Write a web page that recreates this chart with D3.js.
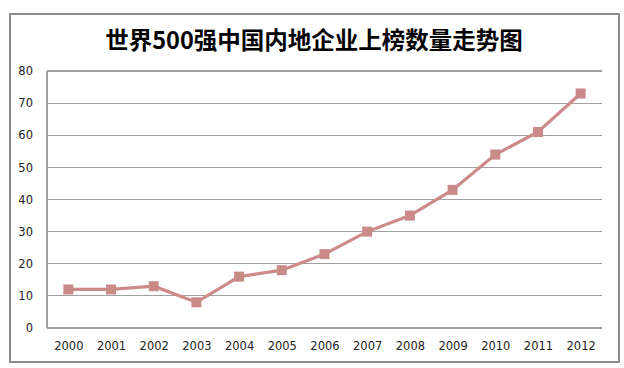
<!DOCTYPE html>
<html><head><meta charset="utf-8">
<script src="https://cdn.jsdelivr.net/npm/d3@7"></script>
<style>body{margin:0;background:#fff}svg{display:block}</style>
</head><body>
<svg id="c" width="624" height="368"></svg>
<script>
const title = "世界500强中国内地企业上榜数量走势图";
const years = ["2000","2001","2002","2003","2004","2005","2006","2007","2008","2009","2010","2011","2012"];
const counts = [12,12,13,8,16,18,23,30,35,43,54,61,73];
const yTicks = [0,10,20,30,40,50,60,70,80];

(function(){
const svg = d3.select("#c");
svg.append("rect").attr("x",10).attr("y",14).attr("width",609).attr("height",348)
  .attr("fill","#fff").attr("stroke","#8c8c8c").attr("stroke-width",2);

svg.append("text").attr("x",314).attr("y",49).attr("text-anchor","middle")
  .attr("font-family","'Noto Sans CJK SC'").attr("font-weight","bold").attr("font-size",23.5)
  .attr("fill","#000").text(title);

const pLeft=47, pRight=602, pTop=71, pBottom=328;
const x = d3.scalePoint().domain(years).range([pLeft,pRight]).padding(0.5);
const y = d3.scaleLinear().domain([0,80]).range([pBottom,pTop]);

const font = "'DejaVu Sans', sans-serif";
svg.append("g").selectAll("line").data(yTicks).join("line")
  .attr("x1",pLeft).attr("x2",pRight).attr("y1",d=>y(d)).attr("y2",d=>y(d))
  .attr("stroke","#a0a0a0").attr("stroke-width",1.2).attr("shape-rendering","crispEdges");
svg.append("line").attr("x1",pLeft).attr("x2",pLeft).attr("y1",pTop).attr("y2",pBottom)
  .attr("stroke","#a0a0a0").attr("stroke-width",1.2).attr("shape-rendering","crispEdges");

const yAxis = svg.append("g").attr("transform",`translate(${pLeft},0)`)
  .call(d3.axisLeft(y).tickValues(yTicks).tickSize(0).tickPadding(14));
yAxis.select(".domain").remove();
yAxis.selectAll("text").attr("font-family",font).attr("font-size",11.5).attr("fill","#222");

const xAxis = svg.append("g").attr("transform",`translate(0,${pBottom})`)
  .call(d3.axisBottom(x).tickSize(0).tickPadding(14));
xAxis.select(".domain").remove();
xAxis.selectAll("text").attr("font-family",font).attr("font-size",11.5).attr("fill","#222");

const line = d3.line().x((d,i)=>x(years[i])).y(d=>y(d));
svg.append("path").datum(counts).attr("d",line).attr("fill","none")
  .attr("stroke","#cc8b89").attr("stroke-width",3.2);
svg.append("g").selectAll("rect").data(counts).join("rect")
  .attr("x",(d,i)=>x(years[i])-5).attr("y",d=>y(d)-5).attr("width",10).attr("height",10)
  .attr("fill","#c98a88");
})();
</script>
</body></html>
